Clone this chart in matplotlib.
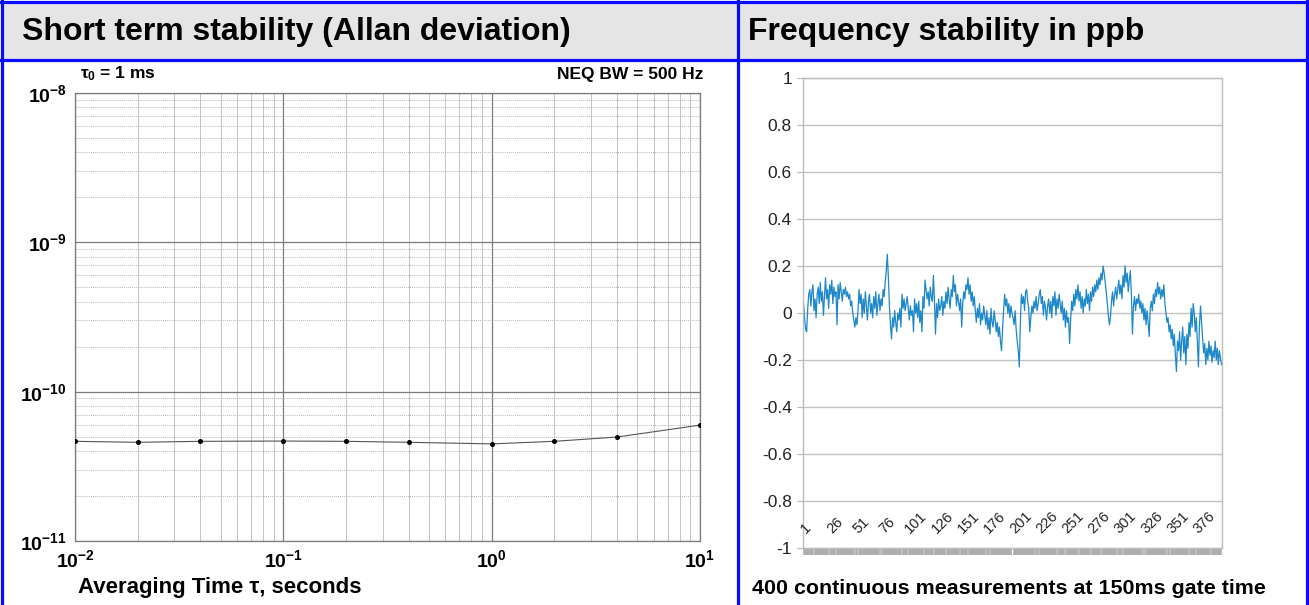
"""Two-panel stability sheet: Allan deviation (left) and 400-sample ppb trace (right)."""
import matplotlib
matplotlib.use("Agg")
import matplotlib.pyplot as plt
import numpy as np
from matplotlib.ticker import FixedLocator, NullFormatter, FixedFormatter
from matplotlib.patches import Rectangle

W, H = 1309, 605

# --- Allan deviation ---
tau_s = [0.01, 0.02, 0.04, 0.1, 0.2, 0.4, 1, 2, 4, 10]
adev = [4.65e-11, 4.58e-11, 4.65e-11, 4.67e-11, 4.65e-11, 4.58e-11,
        4.47e-11, 4.65e-11, 4.97e-11, 5.97e-11]
adev_ticks = [1e-11, 1e-10, 1e-9, 1e-8]
adev_ticklabels = [r"$\mathrm{10^{-11}}$", r"$\mathrm{10^{-10}}$",
                   r"$\mathrm{10^{-9}}$", r"$\mathrm{10^{-8}}$"]
tau_ticks = [1e-2, 1e-1, 1e0, 1e1]
tau_ticklabels = [r"$\mathrm{10^{-2}}$", r"$\mathrm{10^{-1}}$",
                  r"$\mathrm{10^{0}}$", r"$\mathrm{10^{1}}$"]

# --- frequency deviation, ppb, in hundredths (samples 1-400, hand read) ---
ppb_001_100 = [4, -2, -7, -8, 2, 8,
               10, 3, 9, 12, 1, 6, -2, 8, 11, 4, 13, 5, 9, -1, 7,
               15, 6, 10, 2, 12, 8, 14, 4, 11, 7, 9,
               -5,
               12, 6, 13, 9, 5, 10, 8, 11, 7, 9, 6, 8, 3, 5,
               0, -3, -6, -2, -5, 1,
               10, 4, 8, -2, 6, 0, 9, 3,
               -3, 5, 8, 0, 4, -2, 7, 2, 9, -1, 4, 8, 1, 6, 3,
               10, 7, 13, 18, 25,
               15, 3, -5, -11,
               -2, -6, 1, -4, -8, 0, -3, 2, -6,
               8, 2, 6, 1, 4, 7]
ppb_101_200 = [2, -3, 3, -1, 1, -8,
               6, 0, 4, -2, 5, -4, 1, -8, 7, 2, 14,
               10, 6, 9, 3, 11, 7, 5, 16, 5, -9,
               4, -2, 6, 1, 3, 7, -1, 5, 2,
               9, 4, 11, 6, 2, 10, 7, 16,
               9, 12, 3, 8, 5, 1, 6, -6,
               4, 9, 6, 12, 10, 15,
               8, 12, 5, 9, 3, 7, 1,
               -4, 2, -2, 4, -5, 0, -3, 3, -1,
               -5, 1, -7, -2, -9, 2, -4, -6, 1, -3,
               -8, -4, -10, -6, -12, -16, -7, 1, 8,
               3, 6, 0, 4, -2, 3, 0]
ppb_201_300 = [-2, -5, 1, -7, -12, -16, -23, -4, 8,
               4, 7, 1, 9, 10, 5, 2, -8,
               -2, 3, 0, 5, 2, 7, 1, 4, 8, 10,
               4, 7, -1, 5, 2, -3, 3, 6, 0,
               5, -2, 7, 3, 9, -1, 6, 2, 8, 4,
               0, 5, -3, 2, -6, 1, -4, -2, -13,
               -3, 5, 1, 8, 3, 10, 6, 12,
               5, 9, 2, 7, 0, 6, 3, 10, 4, 8, 1, 9, 5,
               11, 7, 12, 9, 14, 10,
               15, 12, 17, 14, 20, 17, 13,
               9, 4, -1, -5, -2,
               5, 9, 3, 8, 11, 6]
ppb_301_400 = [10, 14, 8, 12, 6, 16, 11, 20,
               13, 17, 9, 14, 18, 8, -9,
               3, 7, 1, 6, 4, 8, 2, 5,
               0, 4, -3, 2, -5, 1, -4, -10,
               2, 5, 1, 8, 4, 10, 7, 13,
               8, 11, 6, 10, 7, 12, 4,
               0, -4, -2, -8, -5, -11,
               -7, -14, -9, -18, -25, -12,
               -16, -8, -20, -12, -6, -17, -10, -22, -9, -15,
               -4, -10, 2, -6, 4, 0, -8, -2,
               -13, -23, -5, 3, -4, -11,
               -17, -13, -22, -15, -20, -12, -18, -14, -21, -16,
               -19, -12, -20, -15, -22, -16, -19, -22]
ppb = np.array(ppb_001_100 + ppb_101_200 + ppb_201_300 + ppb_301_400) / 100.0
sample_no = np.arange(1, len(ppb) + 1)
ppb_ticks = [-1, -0.8, -0.6, -0.4, -0.2, 0, 0.2, 0.4, 0.6, 0.8, 1]
ppb_ticklabels = ["-1", "-0.8", "-0.6", "-0.4", "-0.2", "0", "0.2", "0.4", "0.6", "0.8", "1"]
sample_labels = list(range(1, 400, 25))

BLUE = "#0a0aff"
HEAD_BG = "#e5e5e5"
TRACE = "#1c87c9"

plt.rcParams.update({
    "font.family": ["Liberation Sans", "DejaVu Sans"],
    "mathtext.fontset": "custom",
    "mathtext.rm": "Liberation Sans:bold",
    "mathtext.it": "Liberation Sans:bold:italic",
    "mathtext.bf": "Liberation Sans:bold",
})


def box(x0, y0, x1, y1):
    """pixel box (top-left origin) -> figure fraction rect"""
    return [x0 / W, 1 - y1 / H, (x1 - x0) / W, (y1 - y0) / H]


fig = plt.figure(figsize=(W / 100, H / 100), dpi=100)

# page / table frame in pixel coordinates
bg = fig.add_axes([0, 0, 1, 1])
bg.set_xlim(0, W)
bg.set_ylim(H, 0)
bg.axis("off")
bg.add_patch(Rectangle((2, 3), W - 4, 56, color=HEAD_BG, lw=0))
lw_border = 2.3
bg.plot([1.5, 1.5], [0, H], color=BLUE, lw=lw_border)
bg.plot([W - 2, W - 2], [0, H], color=BLUE, lw=lw_border)
bg.plot([738, 738], [0, H], color=BLUE, lw=lw_border)
bg.plot([0, W], [2, 2], color=BLUE, lw=lw_border)
bg.plot([0, W], [60, 60], color=BLUE, lw=lw_border)
bg.text(22, 32, "Short term stability (Allan deviation)", fontsize=23,
        fontweight="bold", va="center", ha="left")
bg.text(748, 32, "Frequency stability in ppb", fontsize=23,
        fontweight="bold", va="center", ha="left")
bg.text(78, 587, "Averaging Time τ, seconds", fontsize=16,
        fontweight="bold", va="center", ha="left")
bg.text(80, 74, r"$\mathrm{\tau_0}$ = 1 ms", fontsize=12.5,
        fontweight="bold", va="center", ha="left")
bg.text(703, 74, "NEQ BW = 500 Hz", fontsize=12.5,
        fontweight="bold", va="center", ha="right")
bg.text(752, 588, "400 continuous measurements at 150ms gate time",
        fontsize=15.4, fontweight="bold", va="center", ha="left")

# --- left: Allan deviation ---
ax = fig.add_axes(box(75, 93, 700, 541))
ax.set_xscale("log")
ax.set_yscale("log")
ax.set_xlim(1e-2, 1e1)
ax.set_ylim(1e-11, 1e-8)
ax.plot(tau_s, adev, color="#555555", lw=0.8, marker="o", ms=2.6,
        mfc="black", mec="black", zorder=3)
ax.yaxis.set_major_locator(FixedLocator(adev_ticks))
ax.yaxis.set_major_formatter(FixedFormatter(adev_ticklabels))
ax.xaxis.set_major_locator(FixedLocator(tau_ticks))
ax.xaxis.set_major_formatter(FixedFormatter(tau_ticklabels))
ax.xaxis.set_minor_formatter(NullFormatter())
ax.yaxis.set_minor_formatter(NullFormatter())
ax.grid(which="major", color="#7a7a7a", lw=0.9)
ax.grid(which="minor", axis="x", color="#c4c4c4", lw=0.7)
ax.grid(which="minor", axis="y", color="#b8b8b8", lw=0.7, ls=(0, (1, 1)))
ax.tick_params(which="both", length=0, labelsize=14, pad=6)
for s in ax.spines.values():
    s.set_color("#7a7a7a")
    s.set_linewidth(0.9)

# --- right: ppb trace ---
ax2 = fig.add_axes(box(803, 78, 1222, 548))
ax2.plot(sample_no, ppb, color=TRACE, lw=0.9)
ax2.set_xlim(0.5, 400.5)
ax2.set_ylim(-1, 1)
ax2.set_yticks(ppb_ticks)
ax2.set_yticklabels(ppb_ticklabels)
ax2.grid(axis="y", color="#c2c2c2", lw=1.0)
ax2.set_axisbelow(True)
ax2.tick_params(axis="y", length=4, color="#b5b5b5", labelsize=12.5,
                labelcolor="#222222", pad=4)
# dense category tick band along the bottom, gap at every 25th category
band = [i + 0.5 for i in range(400) if i % 25 != 0]
ax2.set_xticks([])
ax2.set_xticks(band, minor=True)
ax2.tick_params(axis="x", which="minor", length=5, width=1.1,
                color="#a9a9a9", direction="out")
for s in ax2.spines.values():
    s.set_color("#bcbcbc")
    s.set_linewidth(1.0)
for n in sample_labels:
    ax2.text(n + 4, -0.95, str(n), rotation=45, rotation_mode="anchor",
             ha="left", va="bottom", fontsize=10.5, color="#222222")

fig.savefig("out.png", dpi=100)
